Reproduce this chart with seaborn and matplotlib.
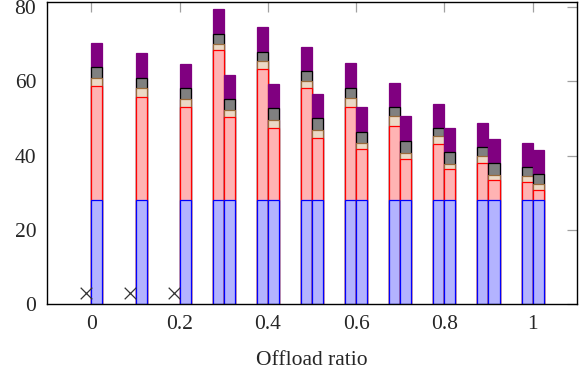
import numpy as np
import pandas as pd
import matplotlib
matplotlib.use("Agg")
import matplotlib.pyplot as plt
import seaborn as sns

# ---- data ----
ratios_right = [0.0, 0.1, 0.2, 0.3, 0.4, 0.5, 0.6, 0.7, 0.8, 0.9, 1.0]
right_blue = [28, 28, 28, 28, 28, 28, 28, 28, 28, 28, 28]
right_red = [30.8, 27.9, 25.1, 22.4, 19.6, 16.8, 13.9, 11.1, 8.4, 5.6, 2.7]
right_beige = [2.2, 2.3, 2.1, 1.8, 2.0, 2.1, 1.4, 1.7, 1.3, 1.3, 1.7]
right_gray = [2.8, 2.8, 3.0, 3.0, 3.2, 3.2, 3.1, 3.3, 3.2, 3.2, 2.7]
right_purple = [6.6, 6.6, 6.4, 6.5, 6.5, 6.5, 6.6, 6.5, 6.6, 6.4, 6.4]

ratios_left = [0.3, 0.4, 0.5, 0.6, 0.7, 0.8, 0.9, 1.0]
left_blue = [28, 28, 28, 28, 28, 28, 28, 28]
left_red = [40.4, 35.3, 30.3, 25.2, 20.1, 15.2, 10.1, 5.0]
left_beige = [1.8, 2.1, 1.8, 2.4, 2.5, 2.0, 1.8, 1.6]
left_gray = [2.7, 2.6, 2.6, 2.7, 2.6, 2.4, 2.5, 2.4]
left_purple = [6.5, 6.6, 6.5, 6.6, 6.5, 6.4, 6.4, 6.4]

infeasible_ratios = [0.0, 0.1, 0.2]
infeasible_marker_y = [3, 3, 3]

xtick_vals = [0, 0.2, 0.4, 0.6, 0.8, 1.0]
xtick_labels = ["0", "0.2", "0.4", "0.6", "0.8", "1"]
ytick_vals = [0, 20, 40, 60, 80]

# ---- style ----
sns.set_theme(style="white")
plt.rcParams["font.family"] = ["Liberation Serif", "DejaVu Serif"]

layers = [  # (face, edge)
    ("#b3b3ff", "#0000ff"),
    ("#ffb3b3", "#ff0000"),
    ("#ecd9c6", "#9a6a3a"),
    ("#808080", "#000000"),
    ("#800080", "#800080"),
]

fig = plt.figure(figsize=(5.88, 3.77), dpi=100)
ax = fig.add_axes([0.0804, 0.1928, 0.9004, 0.8019])

half = 0.0125
series = [
    (np.array(ratios_left) - half, [left_blue, left_red, left_beige, left_gray, left_purple]),
    (np.array(ratios_right) + half, [right_blue, right_red, right_beige, right_gray, right_purple]),
]

for pos, comps in series:
    cum = np.cumsum(np.array(comps, dtype=float), axis=0)
    # draw from top layer down so lower layers overlay
    for k in range(len(comps) - 1, -1, -1):
        df = pd.DataFrame({"pos": pos, "val": cum[k]})
        fc, ec = layers[k]
        sns.barplot(data=df, x="pos", y="val", native_scale=True, width=0.25,
                    color=fc, edgecolor=ec, linewidth=0.9, saturation=1,
                    errorbar=None, ax=ax)

mdf = pd.DataFrame({"pos": np.array(infeasible_ratios) - half, "y": infeasible_marker_y})
sns.scatterplot(data=mdf, x="pos", y="y", marker="x", s=70, color="#333333",
                linewidth=0.9, ax=ax, zorder=5)

ax.set_xlim(-0.1, 1.1)
ax.set_ylim(0, 81.4)
ax.set_xticks(xtick_vals)
ax.set_xticklabels(xtick_labels)
ax.set_yticks(ytick_vals)
ax.set_xlabel("Offload ratio", fontsize=15.5, labelpad=12)
ax.set_ylabel("")
ax.tick_params(direction="in", length=7, width=0.9, color="#a0a0a0",
               top=True, right=True, labelsize=15.5, pad=8)
for s in ax.spines.values():
    s.set_visible(True)
    s.set_color("black")
    s.set_linewidth(1.0)
ax.grid(False)

fig.savefig("out.png", dpi=100)
